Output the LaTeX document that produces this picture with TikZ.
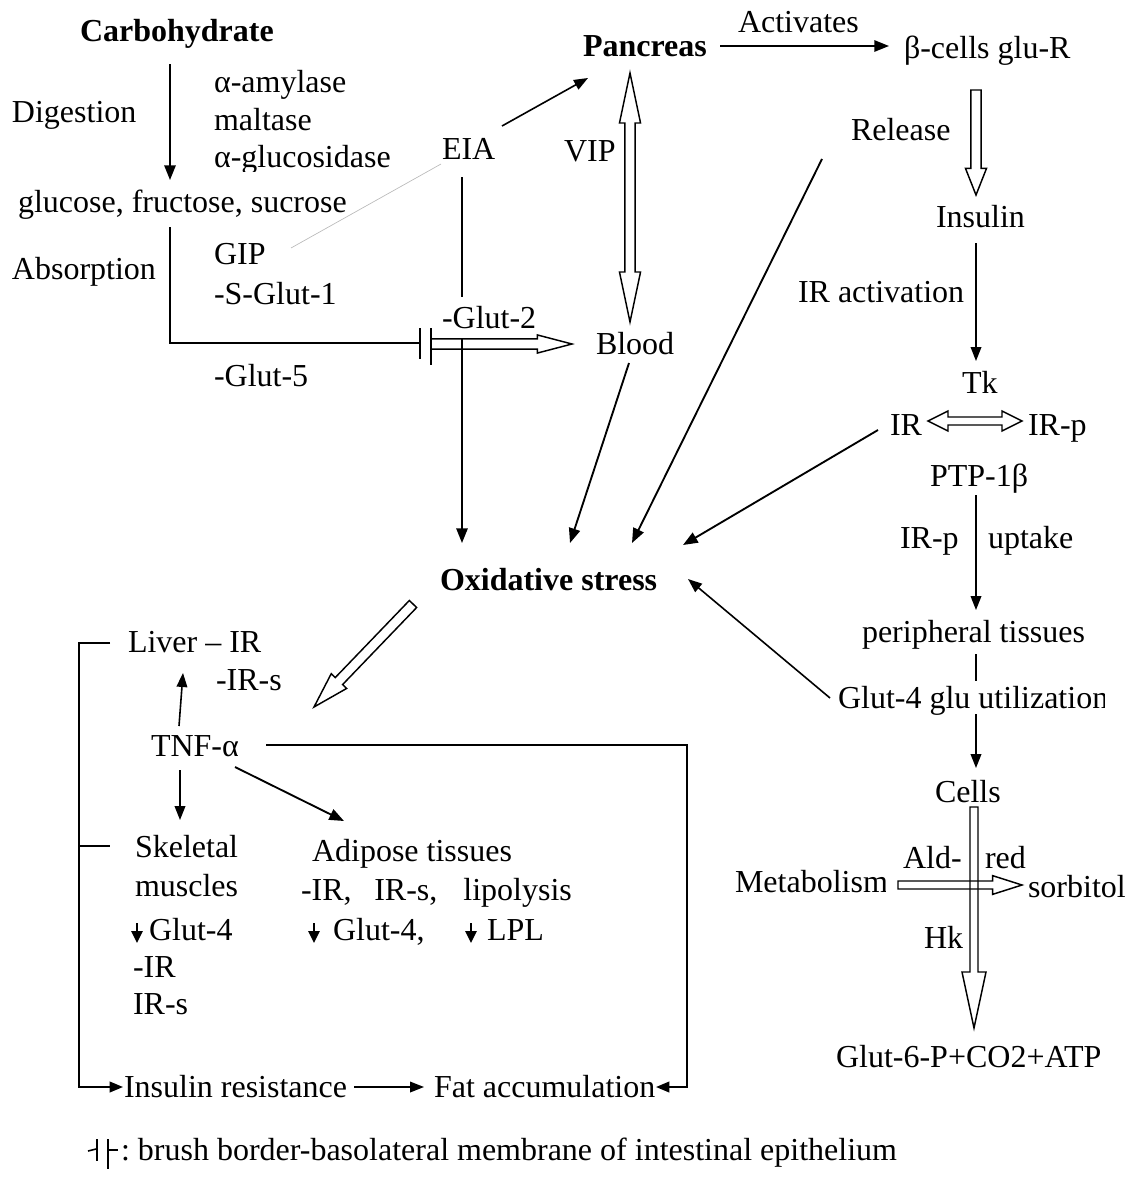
\documentclass[tikz,border=0pt]{standalone}
\usepackage{fontspec}
\setmainfont{Liberation Serif}
\usetikzlibrary{arrows.meta,calc}
\tikzset{
 lbl/.style={anchor=base west, inner sep=0pt, outer sep=0pt, font=\fontsize{24}{28}\selectfont},
 blbl/.style={lbl, font=\fontsize{24}{28}\selectfont\bfseries},
 conn/.style={line width=1.4pt},
 arr/.style={conn, -{Triangle[length=11pt,width=8.5pt]}},
 tarr/.style={line width=1.2pt, -{Triangle[length=10.5pt,width=8pt]}},
 minarr/.style={line width=1.3pt, -{Triangle[length=9pt,width=8.5pt]}},
 hollow/.style={line width=1.1pt, line join=miter, fill=none},
 barline/.style={line width=1.5pt},
}
% #1 start, #2 end, #3 shaft half width, #4 head half width, #5 head length
\newcommand\hollowarr[5]{%
 \coordinate (hb) at ($(#2)!#5!(#1)$);
 \draw[hollow] ($(#1)!#3!90:(#2)$) -- ($(hb)!#3!90:(#2)$) -- ($(hb)!#4!90:(#2)$) -- (#2)
   -- ($(hb)!#4!-90:(#2)$) -- ($(hb)!#3!-90:(#2)$) -- ($(#1)!#3!-90:(#2)$) -- cycle;}
\newcommand\hollowdbl[5]{%
 \coordinate (hb) at ($(#2)!#5!(#1)$);
 \coordinate (ha) at ($(#1)!#5!(#2)$);
 \draw[hollow] ($(ha)!#3!90:(#2)$) -- ($(hb)!#3!90:(#2)$) -- ($(hb)!#4!90:(#2)$) -- (#2)
   -- ($(hb)!#4!-90:(#2)$) -- ($(hb)!#3!-90:(#2)$) -- ($(ha)!#3!-90:(#2)$)
   -- ($(ha)!#4!-90:(#2)$) -- (#1) -- ($(ha)!#4!90:(#2)$) -- cycle;}
\begin{document}
\begin{tikzpicture}[x=0.75pt,y=-0.75pt]
\useasboundingbox (0,0) rectangle (1131,1199);
% ---------- text nodes ----------
\node[blbl] (carb) at (80,41) {Carbohydrate};
\node[lbl] (activ) at (738,32) {Activates};
\node[blbl] (panc) at (583,56) {Pancreas};
\node[lbl] (beta) at (904,58) {β-cells glu-R};
\node[lbl] (dig) at (12,122) {Digestion};
\node[lbl] (amyl) at (214,92) {α-amylase};
\node[lbl] (malt) at (214,130) {maltase};
\begin{scope}
\clip (200,140) rectangle (420,171);
\node[lbl] (gluc) at (214,167) {α-glucosidase};
\end{scope}
\node[lbl] (eia) at (442,159) {EIA};
\node[lbl] (vip) at (564,161) {VIP};
\node[lbl] (rel) at (851,140) {Release};
\node[lbl] (sug) at (18,212) {glucose, fructose, sucrose};
\node[lbl] (ins) at (936,227) {Insulin};
\node[lbl] (gip) at (214,264) {GIP};
\node[lbl] (abs) at (12,279) {Absorption};
\node[lbl] (iract) at (798,302) {IR activation};
\node[lbl] (sglut) at (214,304) {-S-Glut-1};
\node[lbl] (glut2) at (442,328) {-Glut-2};
\node[lbl] (blood) at (596,354) {Blood};
\node[lbl] (glut5) at (214,386) {-Glut-5};
\node[lbl] (tk) at (962,393) {Tk};
\node[lbl] (ir) at (890,435) {IR};
\node[lbl] (irp) at (1028,435) {IR-p};
\node[lbl] (ptp) at (930,486) {PTP-1β};
\node[lbl] (irp2) at (900,548) {IR-p};
\node[lbl] (upt) at (988,548) {uptake};
\node[blbl] (ox) at (440,590) {Oxidative stress};
\node[lbl] (per) at (862,642) {peripheral tissues};
\node[lbl] (liver) at (128,652) {Liver – IR};
\node[lbl] (irs1) at (216,690) {-IR-s};
\begin{scope}
\clip (830,670) rectangle (1104,720);
\node[lbl] (g4u) at (838,708) {Glut-4 glu utilization};
\end{scope}
\node[lbl] (tnf) at (151,756) {TNF-α};
\node[lbl] (cells) at (935,802) {Cells};
\node[lbl] (skel) at (135,857) {Skeletal};
\node[lbl] (adip) at (312,861) {Adipose tissues};
\node[lbl] (ald) at (903,868) {Ald-};
\node[lbl] (red) at (985,868) {red};
\begin{scope}
\clip (725,850) rectangle (885,905);
\node[lbl] (metab) at (735,892) {Metabolism};
\end{scope}
\node[lbl] (sorb) at (1028,897) {sorbitol};
\node[lbl] (musc) at (135,896) {muscles};
\node[lbl] (adl) at (301,900) {-IR,\hspace{17pt}IR-s,\hspace{19.5pt}lipolysis};
\node[lbl] (sg4) at (149,940) {Glut-4};
\node[lbl] (ag4) at (333,940) {Glut-4,};
\node[lbl] (lpl) at (487,940) {LPL};
\node[lbl] (hk) at (924,948) {Hk};
\node[lbl] (sir) at (133,977) {-IR};
\node[lbl] (sirs) at (133,1014) {IR-s};
\node[lbl] (g6p) at (836,1067) {Glut-6-P+CO2+ATP};
\node[lbl] (insres) at (124,1097) {Insulin resistance};
\node[lbl] (fat) at (434,1097) {Fat accumulation};
\node[lbl] (legend) at (121,1160) {:\hspace{6pt}brush border-basolateral membrane of intestinal epithelium};
% ---------- coordinates ----------
\coordinate (c1) at (170,64);   \coordinate (c2) at (170,180);
\coordinate (a1) at (170,227);  \coordinate (a2) at (170,343); \coordinate (a3) at (420,343);
\coordinate (h1) at (431,344);  \coordinate (h2) at (572,344);
\coordinate (e1) at (462,177);  \coordinate (e2) at (462,297);
\coordinate (e3) at (462,338);  \coordinate (e4) at (462,543);
\coordinate (ep1) at (502,126); \coordinate (ep2) at (588,78);
\coordinate (gy1) at (441,164); \coordinate (gy2) at (291,248);
\coordinate (pb1) at (720,46);  \coordinate (pb2) at (889,46);
\coordinate (vp1) at (630,73);  \coordinate (vp2) at (630,322);
\coordinate (bo1) at (629,363); \coordinate (bo2) at (570,543);
\coordinate (ro1) at (822,159); \coordinate (ro2) at (632,543);
\coordinate (bi1) at (976,90);  \coordinate (bi2) at (976,195);
\coordinate (it1) at (976,243); \coordinate (it2) at (976,361);
\coordinate (ii1) at (928,421); \coordinate (ii2) at (1022,421);
\coordinate (io1) at (878,430); \coordinate (io2) at (683,545);
\coordinate (pp1) at (976,495); \coordinate (pp2) at (976,610);
\coordinate (pg1) at (976,654); \coordinate (pg2) at (976,681);
\coordinate (go1) at (830,698); \coordinate (go2) at (688,579);
\coordinate (gc1) at (976,714); \coordinate (gc2) at (976,768);
\coordinate (cg1) at (974,807); \coordinate (cg2) at (974,1028);
\coordinate (ms1) at (898,885); \coordinate (ms2) at (1022,885);
\coordinate (ot1) at (413,604); \coordinate (ot2) at (314,707);
\coordinate (tl1) at (179,726); \coordinate (tl2) at (183,673);
\coordinate (ts1) at (180,770); \coordinate (ts2) at (180,820);
\coordinate (ta1) at (235,767); \coordinate (ta2) at (344,821);
\coordinate (tf1) at (266,745); \coordinate (tf2) at (687,745); \coordinate (tf3) at (687,1087); \coordinate (tf4) at (656,1087);
\coordinate (br1) at (110,643); \coordinate (br2) at (79,643); \coordinate (br3) at (79,1087); \coordinate (br4) at (123,1087);
\coordinate (bm1) at (79,846);  \coordinate (bm2) at (110,846);
\coordinate (if1) at (354,1087); \coordinate (if2) at (424,1087);
% ---------- connectors ----------
\draw[arr] (c1) -- (c2);
\draw[conn] (a1) -- (a2) -- (a3);
\draw[barline] (420,328) -- (420,359);
\draw[barline] (431,328) -- (431,365);
\hollowarr{h1}{h2}{3.8pt}{6.8pt}{26pt}
\draw[conn] (e1) -- (e2);
\draw[arr] (e3) -- (e4);
\draw[tarr] (ep1) -- (ep2);
\draw[gray!55, line width=0.5pt] (gy1) -- (gy2);
\draw[arr] (pb1) -- (pb2);
\hollowdbl{vp1}{vp2}{3.8pt}{7.9pt}{37.5pt}
\draw[arr] (bo1) -- (bo2);
\draw[arr] (ro1) -- (ro2);
\hollowarr{bi1}{bi2}{3.8pt}{7.9pt}{20pt}
\draw[tarr] (it1) -- (it2);
\hollowdbl{ii1}{ii2}{3pt}{7.5pt}{15pt}
\draw[arr] (io1) -- (io2);
\draw[tarr] (pp1) -- (pp2);
\draw[conn] (pg1) -- (pg2);
\draw[tarr] (go1) -- (go2);
\draw[tarr] (gc1) -- (gc2);
\hollowarr{cg1}{cg2}{3pt}{9pt}{42pt}
\hollowarr{ms1}{ms2}{3pt}{7pt}{22pt}
\hollowarr{ot1}{ot2}{3.8pt}{8pt}{27pt}
\draw[tarr] (tl1) -- (tl2);
\draw[tarr] (ts1) -- (ts2);
\draw[arr] (ta1) -- (ta2);
\draw[conn, -{Triangle[length=10pt,width=8pt]}] (tf1) -- (tf2) -- (tf3) -- (tf4);
\draw[conn, -{Triangle[length=10pt,width=8pt]}] (br1) -- (br2) -- (br3) -- (br4);
\draw[conn] (bm1) -- (bm2);
\draw[tarr] (if1) -- (if2);
% small down arrows
\draw[minarr] (137,923) -- (137,943);
\draw[minarr] (314,923) -- (314,943);
\draw[minarr] (471,923) -- (471,943);
% legend symbol
\draw[line width=1.2pt] (88,1151) -- (96,1149);
\draw[line width=1.4pt] (97,1139) -- (97,1161);
\draw[line width=1.4pt] (108,1139) -- (108,1169);
\draw[line width=1.2pt] (108,1150) -- (118,1150);
\end{tikzpicture}
\end{document}
